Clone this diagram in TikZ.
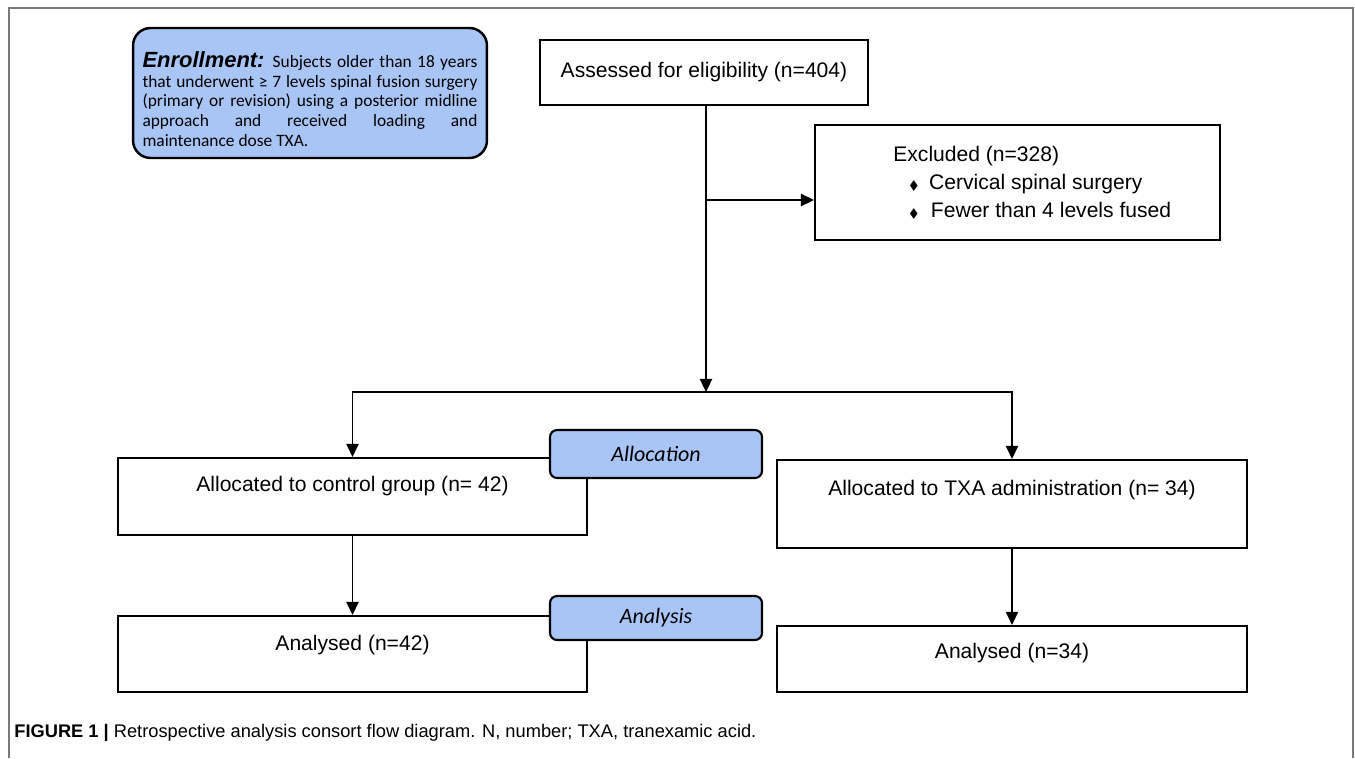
\documentclass[tikz,border=0pt]{standalone}
\usepackage{amsmath,amssymb}
\usepackage{fontspec}
\setmainfont{Liberation Sans}
\newfontfamily\calib{Carlito}
\usepackage{xcolor}
\usepackage{tikz}
\usetikzlibrary{arrows.meta,positioning,calc}
\definecolor{flowblue}{HTML}{A9C5F5}
\definecolor{framegray}{HTML}{7A7A7A}

\begin{document}
\hyphenpenalty=10000
\exhyphenpenalty=10000
\begin{tikzpicture}[x=0.02cm,y=-0.02cm,
  box/.style={draw,line width=1.2pt,fill=white,font=\fontsize{12}{14}\selectfont},
  tag/.style={draw,line width=1.2pt,fill=flowblue,rounded corners=4pt,minimum width=4.24cm,font=\calib\itshape\fontsize{12.5}{15}\selectfont},
  arr/.style={line width=1pt,-{Triangle[length=7.5pt,width=7pt]}}]
  \useasboundingbox (0,0) rectangle (1355,758);
  \draw[framegray,line width=0.9pt] (9,758)--(9,8)--(1353,8)--(1353,758);
  % enrollment
  \node[draw,line width=1.4pt,fill=flowblue,rounded corners=10pt,minimum width=7.08cm,minimum height=2.6cm,text width=6.7cm,align=justify,inner sep=0pt,font=\calib\fontsize{9.9}{11.2}\selectfont] (enrol) at (310,93)
    {\rule{0pt}{16pt}{\fontspec{Liberation Sans}\bfseries\itshape\fontsize{12.5}{11}\selectfont Enrollment:} Subjects older than 18 years\linebreak
     that underwent ≥ 7 levels spinal fusion surgery\linebreak
     (primary or revision) using a posterior midline\linebreak
     approach and received loading and\linebreak
     maintenance dose TXA.};
  % flow boxes
  \node[box,minimum width=6.56cm,minimum height=1.3cm] (assess) at (704,72.5){Assessed for eligibility (n=404)};
  \node[box,minimum width=8.1cm,minimum height=2.3cm] (excl) at (1017.5,182.5){};
  \node[anchor=north west,align=left,inner sep=0pt,font=\fontsize{12}{15}\selectfont] (excltxt) at (893,146)
    {Excluded (n=328)\\[1pt]
     \hspace*{9pt}{\scriptsize$\blacklozenge$}\hspace{6pt}Cervical spinal surgery\\[1pt]
     \hspace*{9pt}{\scriptsize$\blacklozenge$}\hspace{7pt}Fewer than 4 levels fused};
  \node[box,minimum width=9.38cm,minimum height=1.54cm,text depth=0.52cm] (ctrl) at (352.5,496.5){Allocated to control group (n= 42)};
  \node[box,minimum width=9.4cm,minimum height=1.76cm,text depth=0.64cm] (txa) at (1012,504){Allocated to TXA administration (n= 34)};
  \node[box,minimum width=9.38cm,minimum height=1.52cm,text depth=0.44cm] (anactrl) at (352.5,654){Analysed (n=42)};
  \node[box,minimum width=9.4cm,minimum height=1.32cm,text depth=0.32cm] (anatxa) at (1012,659){Analysed (n=34)};
  \node[tag,minimum height=0.96cm] (alloc) at (656,454){Allocation};
  \node[tag,minimum height=0.88cm] (anal) at (656,618){Analysis};
  % connectors
  \coordinate (brk) at (706,200);
  \coordinate (split) at (706,392);
  \draw[arr] (assess.south -| split) -- (split);
  \draw[arr] (brk) -- (brk -| excl.west);
  \draw[arr] (split) -| (ctrl.north);
  \draw[arr] (split) -| (txa.north);
  \draw[arr] (ctrl.south) -- (anactrl.north);
  \draw[arr] (txa.south) -- (anatxa.north);
  % caption
  \node[anchor=west,inner sep=0pt,font=\fontsize{10.4}{12}\selectfont] (cap) at (14,733)
    {\textbf{FIGURE 1 |} Retrospective analysis consort flow diagram. N, number; TXA, tranexamic acid.};
\end{tikzpicture}
\end{document}
